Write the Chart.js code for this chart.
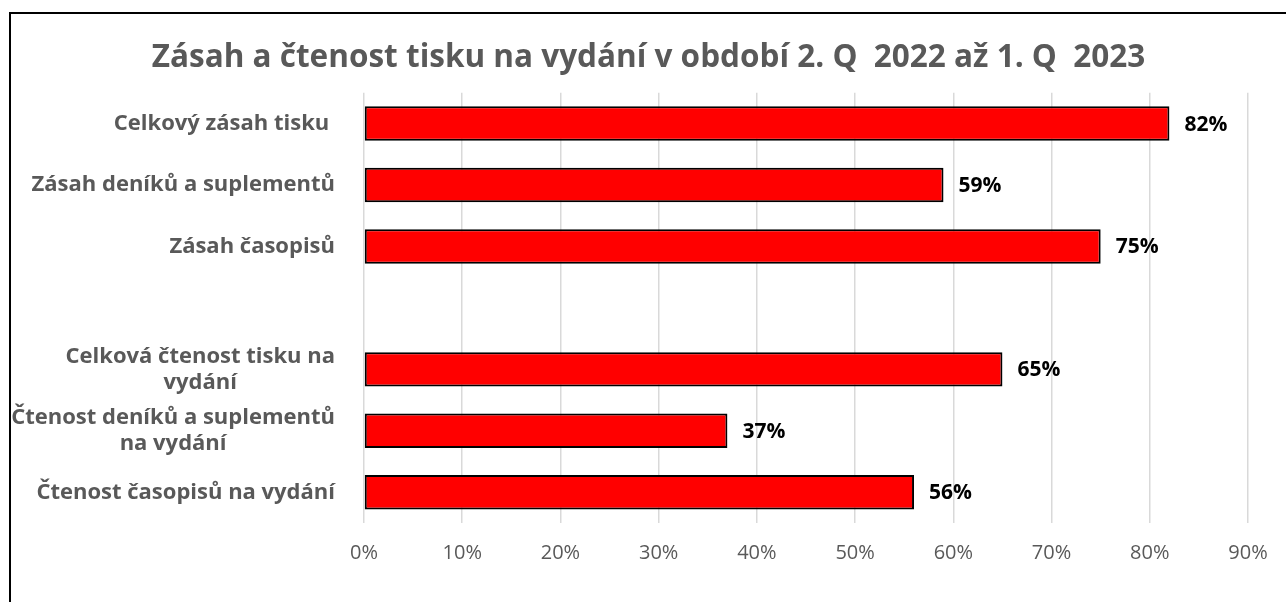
<!DOCTYPE html>
<html lang="cs">

<head>
  <meta charset="UTF-8" />
  <title>Zásah a čtenost tisku</title>
  <script src="https://cdn.jsdelivr.net/npm/chart.js"></script>
  <style>
    html, body { margin: 0; padding: 0; background: #fff; overflow: hidden; }
    /* rámeček grafu - vidět je jen levá a horní hrana */
    .ramecek {
      position: absolute; left: 9px; top: 12px;
      width: 1277px; height: 590px;
      border-left: 2px solid #000; border-top: 2px solid #000;
    }
    .plocha { position: relative; width: 1275px; height: 588px; }
  </style>
</head>

<body>
  <div class="ramecek">
    <div class="plocha">
      <canvas id="grafCtenost"></canvas>
    </div>
  </div>

  <script>
    // data grafu
    var kategorie = [
      ['Celkový zásah tisku '],
      ['Zásah deníků a suplementů'],
      ['Zásah časopisů'],
      [''],
      ['Celková čtenost tisku na', 'vydání'],
      ['Čtenost deníků a suplementů', 'na vydání'],
      ['Čtenost časopisů na vydání']
    ];
    var hodnoty = [82, 59, 75, null, 65, 37, 56];
    var osaMax = 90;
    var osaKrok = 10;

    var sedaText = '#595959';
    var pismo = 'Open Sans';

    // popisky kategorií vlevo - každý blok zarovnaný doprava, řádky uvnitř na střed
    var popiskyKategorii = {
      id: 'popiskyKategorii',
      afterDraw: function (chart) {
        var ctx = chart.ctx;
        var osaY = chart.scales.y;
        var pravyOkraj = 324;
        var radek = 26;
        ctx.save();
        ctx.font = 'bold 22px "' + pismo + '"';
        ctx.fillStyle = sedaText;
        ctx.textAlign = 'center';
        ctx.textBaseline = 'middle';
        kategorie.forEach(function (radky, i) {
          var sirka = 0;
          radky.forEach(function (t) { sirka = Math.max(sirka, ctx.measureText(t).width); });
          var stred = pravyOkraj - sirka / 2;
          var y0 = osaY.getPixelForValue(i) - (radky.length - 1) * radek / 2;
          radky.forEach(function (t, j) { ctx.fillText(t, stred, y0 + j * radek); });
        });
        ctx.restore();
      }
    };

    // hodnoty za koncem sloupců
    var popiskyHodnot = {
      id: 'popiskyHodnot',
      afterDatasetsDraw: function (chart) {
        var ctx = chart.ctx;
        var meta = chart.getDatasetMeta(0);
        ctx.save();
        ctx.font = 'bold 21px "' + pismo + '"';
        ctx.fillStyle = '#000';
        ctx.textAlign = 'left';
        ctx.textBaseline = 'middle';
        meta.data.forEach(function (bar, i) {
          if (hodnoty[i] === null) return;
          ctx.fillText(hodnoty[i] + '%', bar.x + 15, bar.y + 1);
        });
        ctx.restore();
      }
    };

    var ctx = document.getElementById('grafCtenost').getContext('2d');
    var config = {
      type: 'bar',
      data: {
        labels: kategorie,
        datasets: [{
          data: hodnoty,
          backgroundColor: '#FF0000',
          borderColor: '#000000',
          borderWidth: 2,
          borderSkipped: false,
          categoryPercentage: 0.56,
          barPercentage: 1
        }]
      },
      options: {
        indexAxis: 'y',
        responsive: true,
        maintainAspectRatio: false,
        animation: false,
        layout: { padding: { bottom: 19 } },
        plugins: {
          legend: { display: false },
          tooltip: { enabled: false },
          title: {
            display: true,
            text: 'Zásah a čtenost tisku na vydání v období 2. Q  2022 až 1. Q  2023',
            color: sedaText,
            font: { family: pismo, size: 31.5, weight: 'bold' },
            padding: { top: 25, bottom: 16 }
          }
        },
        scales: {
          x: {
            min: 0,
            max: osaMax,
            ticks: {
              stepSize: osaKrok,
              color: sedaText,
              font: { family: pismo, size: 20 },
              padding: 18,
              maxRotation: 0,
              callback: function (v) { return v + '%'; }
            },
            grid: { color: '#d9d9d9', lineWidth: 1.5, drawTicks: false },
            border: { display: false }
          },
          y: {
            ticks: { display: false },
            grid: { display: false },
            border: { display: false },
            afterFit: function (s) { s.width = 353; }
          },
          // prázdná osa vpravo jen drží okraj, aby titulek zůstal na středu
          yPravy: {
            position: 'right',
            ticks: { display: false },
            grid: { display: false },
            border: { display: false },
            afterFit: function (s) { s.width = 38; }
          }
        }
      },
      plugins: [popiskyKategorii, popiskyHodnot]
    };
    var grafCtenost = new Chart(ctx, config);
  </script>
</body>

</html>
